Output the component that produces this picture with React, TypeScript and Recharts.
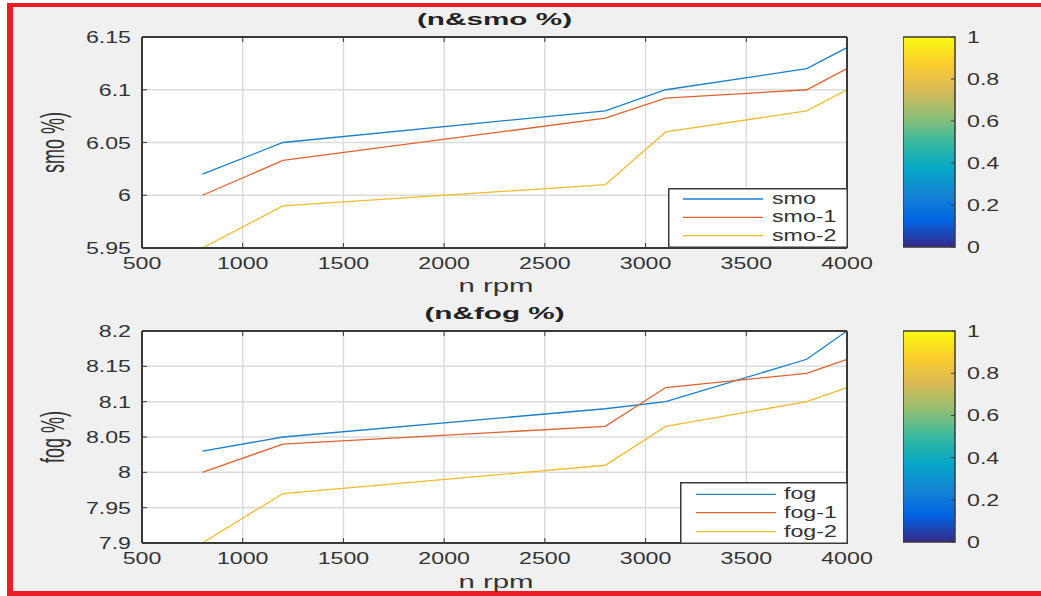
import React from 'react';
import { LineChart, Line, XAxis, YAxis, CartesianGrid, BarChart, Bar, Label } from 'recharts';

const rpm = [800, 1200, 2800, 3100, 3800, 4000];
const smo = [6.02, 6.05, 6.08, 6.1, 6.12, 6.14];
const smo1 = [6.0, 6.033, 6.073, 6.092, 6.1, 6.12];
const smo2 = [5.95, 5.99, 6.01, 6.06, 6.08, 6.1];
const fog = [8.03, 8.05, 8.09, 8.1, 8.16, 8.2];
const fog1 = [8.0, 8.04, 8.065, 8.12, 8.14, 8.16];
const fog2 = [7.9, 7.97, 8.01, 8.065, 8.1, 8.12];

const rpmTicks = [500, 1000, 1500, 2000, 2500, 3000, 3500, 4000];
const smoTicks = [5.95, 6, 6.05, 6.1, 6.15];
const fogTicks = [7.9, 7.95, 8, 8.05, 8.1, 8.15, 8.2];
const cbTicks = [0, 0.2, 0.4, 0.6, 0.8, 1];

const smoNames = ['smo', 'smo-1', 'smo-2'];
const fogNames = ['fog', 'fog-1', 'fog-2'];
const lineColors = ['#1a7fcc', '#e0622e', '#f0bb2f'];
const parula = ['#352a87', '#0363e1', '#1485d4', '#06a7c6', '#38b99e', '#92bf73', '#d9ba56', '#fcce2e', '#f9fb0e'];

const FONT = "'Liberation Sans', Arial, sans-serif";
const INK = '#333';
const BOX = '#3a3a3a';

const XTick = (p: any) => (
  <text transform={`translate(${p.x},${p.y + 12}) scale(1.45,1)`} textAnchor="middle" fontSize={16} fill={INK} fontFamily={FONT}>
    {p.payload.value}
  </text>
);
const YTick = (p: any) => (
  <text transform={`translate(${p.x},${p.y + 6}) scale(1.45,1)`} textAnchor="end" fontSize={16} fill={INK} fontFamily={FONT}>
    {p.payload.value}
  </text>
);
const CbTick = (p: any) => (
  <text transform={`translate(${p.x},${p.y + 6}) scale(1.45,1)`} textAnchor="start" fontSize={16} fill={INK} fontFamily={FONT}>
    {p.payload.value}
  </text>
);
const NoTick = () => <g />;

type PanelProps = {
  id: string;
  top: number;
  height: number;
  plotTop: number;
  plotBottom: number;
  title: string;
  yLabel: string;
  names: string[];
  series: number[][];
  yTicks: number[];
  legend: { x: number; y: number; w: number; h: number; lx1: number; lx2: number; tx: number; rows: number[] };
};

function Panel({ id, top, height, plotTop, plotBottom, title, yLabel, names, series, yTicks, legend }: PanelProps) {
  const data = rpm.map((n, i) => {
    const row: any = { n };
    names.forEach((name, k) => (row[name] = series[k][i]));
    return row;
  });
  const mt = plotTop - top - 5;
  const mb = top + height - plotBottom - 30;
  const domain = [yTicks[0], yTicks[yTicks.length - 1]];

  return (
    <>
      <div style={{ position: 'absolute', left: 0, top }}>
        <LineChart width={1041} height={height} data={data} margin={{ top: mt, right: 184, bottom: mb, left: 0 }}>
          <CartesianGrid fill="#fff" stroke="#dcdcdc" strokeWidth={1.5} />
          <XAxis
            dataKey="n"
            type="number"
            domain={[500, 4000]}
            ticks={rpmTicks}
            height={30}
            tickSize={-5}
            tickMargin={14}
            axisLine={{ stroke: BOX, strokeWidth: 2 }}
            tickLine={{ stroke: BOX }}
            tick={XTick}
          >
            <Label
              content={() => (
                <text transform={`translate(496,292) scale(1.63,1)`} textAnchor="middle" fontSize={18} fill={INK} fontFamily={FONT}>
                  n rpm
                </text>
              )}
            />
          </XAxis>
          <XAxis
            xAxisId="top"
            orientation="top"
            dataKey="n"
            type="number"
            domain={[500, 4000]}
            ticks={rpmTicks}
            height={5}
            tickSize={-5}
            axisLine={{ stroke: BOX, strokeWidth: 2 }}
            tickLine={{ stroke: BOX }}
            tick={NoTick}
          >
            <Label
              content={() => (
                <text transform={`translate(494.5,${plotTop - top - 12}) scale(1.8,1)`} textAnchor="middle" fontSize={16.5} fontWeight="bold" fill="#222" fontFamily={FONT}>
                  {title}
                </text>
              )}
            />
          </XAxis>
          <YAxis
            type="number"
            domain={domain}
            ticks={yTicks}
            width={142}
            tickSize={-5}
            tickMargin={16}
            axisLine={{ stroke: BOX, strokeWidth: 2 }}
            tickLine={{ stroke: BOX }}
            tick={YTick}
          >
            <Label
              content={() => (
                <text transform={`translate(64,${(plotTop + plotBottom) / 2 - top}) scale(1.8,1) rotate(-90)`} textAnchor="middle" fontSize={18} fill={INK} fontFamily={FONT}>
                  {yLabel}
                </text>
              )}
            />
          </YAxis>
          <YAxis
            yAxisId="right"
            orientation="right"
            type="number"
            domain={domain}
            ticks={yTicks}
            width={10}
            tickSize={-5}
            axisLine={{ stroke: BOX, strokeWidth: 2 }}
            tickLine={{ stroke: BOX }}
            tick={NoTick}
          />
          {names.map((name, k) => (
            <Line
              key={name}
              dataKey={name}
              stroke={lineColors[k]}
              strokeWidth={1.3}
              dot={false}
              isAnimationActive={false}
            />
          ))}
        </LineChart>
      </div>

      <div style={{ position: 'absolute', left: 903, top }}>
        <BarChart width={130} height={height} data={[{ k: 'c', c: 1 }]} margin={{ top: plotTop - top, right: 0, bottom: top + height - plotBottom + 1, left: 0 }} barCategoryGap={0}>
          <defs>
            <linearGradient id={`parula-${id}`} x1="0" y1="1" x2="0" y2="0">
              {parula.map((c, i) => (
                <stop key={i} offset={i / (parula.length - 1)} stopColor={c} />
              ))}
            </linearGradient>
          </defs>
          <XAxis dataKey="k" hide />
          <YAxis
            orientation="right"
            type="number"
            domain={[0, 1]}
            ticks={cbTicks}
            width={78}
            tickSize={-4}
            tickMargin={16}
            axisLine={false}
            tickLine={{ stroke: BOX }}
            tick={CbTick}
          />
          <Bar dataKey="c" fill={`url(#parula-${id})`} stroke={BOX} strokeWidth={1.5} isAnimationActive={false} />
        </BarChart>
      </div>

      <svg style={{ position: 'absolute', left: legend.x, top: legend.y }} width={legend.w} height={legend.h}>
        <rect x={0.75} y={0.75} width={legend.w - 1.5} height={legend.h - 1.5} fill="#fff" stroke={BOX} strokeWidth={1.5} />
        {names.map((name, k) => (
          <g key={name}>
            <line x1={legend.lx1 - legend.x} x2={legend.lx2 - legend.x} y1={legend.rows[k] - legend.y} y2={legend.rows[k] - legend.y} stroke={lineColors[k]} strokeWidth={1.3} />
            <text transform={`translate(${legend.tx - legend.x},${legend.rows[k] - legend.y + 5}) scale(1.45,1)`} fontSize={16} fill={INK} fontFamily={FONT}>
              {name}
            </text>
          </g>
        ))}
      </svg>
    </>
  );
}

export default function App() {
  return (
    <div style={{ position: 'absolute', left: 0, top: 0, width: 1041, height: 596, background: '#fff', overflow: 'hidden' }}>
      <div
        style={{
          position: 'absolute',
          left: 7,
          top: 3,
          width: 1100,
          height: 593,
          boxSizing: 'border-box',
          background: '#f0f0f0',
          borderLeft: '6px solid #ed1c24',
          borderTop: '4px solid #ed1c24',
          borderBottom: '5px solid #ed1c24',
        }}
      />
      <Panel
        id="smo"
        top={0}
        height={296}
        plotTop={37}
        plotBottom={248}
        title="(n&smo %)"
        yLabel="smo %)"
        names={smoNames}
        series={[smo, smo1, smo2]}
        yTicks={smoTicks}
        legend={{ x: 668, y: 188, w: 180, h: 60, lx1: 683, lx2: 763, tx: 772, rows: [199, 217.3, 235.7] }}
      />
      <Panel
        id="fog"
        top={296}
        height={300}
        plotTop={331}
        plotBottom={543}
        title="(n&fog %)"
        yLabel="fog %)"
        names={fogNames}
        series={[fog, fog1, fog2]}
        yTicks={fogTicks}
        legend={{ x: 680, y: 482, w: 168, h: 62, lx1: 696, lx2: 776, tx: 784, rows: [494.3, 512.7, 531.7] }}
      />
    </div>
  );
}
